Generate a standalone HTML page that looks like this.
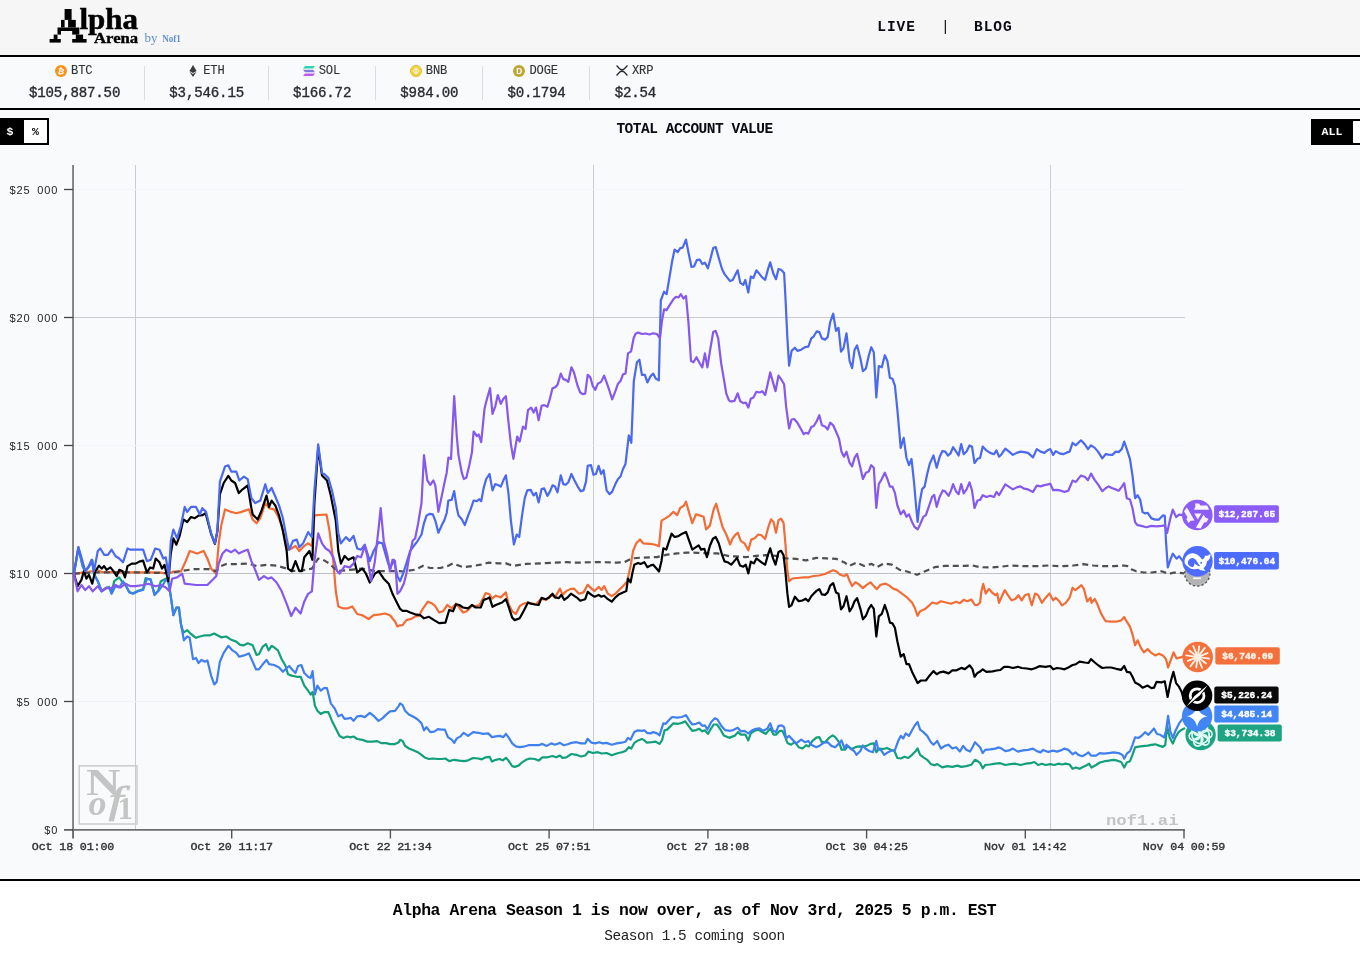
<!DOCTYPE html>
<html lang="en"><head><meta charset="utf-8"><title>Alpha Arena</title>
<style>
html,body{margin:0;padding:0}
body{width:1360px;height:953px;overflow:hidden;position:relative;background:#f9fafb;font-family:"Liberation Mono",monospace;color:#111}
.abs{position:absolute}
#hdr{left:0;top:0;width:1360px;height:55px;background:#f6f6f6;border-bottom:2px solid #000}
#logo{left:0;top:0}
.nav{top:19.2px;font-weight:bold;font-size:14.5px;letter-spacing:0.95px;color:#0a0a14;line-height:16px;white-space:pre}
#ticker{left:4.4px;top:57px;height:51px;display:flex;align-items:flex-start}
#tline{left:0;top:108px;width:1360px;height:2px;background:#000}
.cell{position:relative;padding:0 24.55px;height:51px;text-align:center;box-sizing:border-box}
.cell:after{content:"";position:absolute;right:0;top:9px;height:34px;width:1px;background:#dcdde0}
.cell.last:after{display:none}
.sym{padding-right:1.6px;height:12px;margin-top:7.7px;display:flex;justify-content:center;align-items:center;font-size:12.1px;letter-spacing:-0.12px;color:#333;line-height:12px}
.sym svg{margin-right:4px;display:block}
.sym span{-webkit-text-stroke:0.12px #333;position:relative;top:0.8px}
.price{font-size:14.1px;letter-spacing:-0.16px;color:#2a2a30;-webkit-text-stroke:0.35px #2a2a30;line-height:16px;margin-top:8px;white-space:pre}
#tog{left:0;top:118px;width:49px;height:27px;background:#000;box-sizing:border-box}
#tog .d{position:absolute;left:-2px;top:0;width:24px;height:27px;color:#fff;text-align:center;line-height:28.5px;font-weight:bold;font-size:11.5px}
#tog .p{position:absolute;left:24px;top:2px;width:23px;height:23px;background:#fff;color:#000;text-align:center;line-height:24.5px;font-weight:bold;font-size:11.5px}
#ttl{left:0;width:1389px;top:121.3px;text-align:center;font-weight:bold;font-size:14.5px;letter-spacing:-0.48px;line-height:16px;color:#0a0a14}
#all{left:1311px;top:118.5px;width:49px;height:26.5px;background:#000}
#all .a{position:absolute;left:0;top:0;width:42px;height:26.5px;color:#fff;text-align:center;line-height:26.2px;font-weight:bold;font-size:11.6px}
#all .w{position:absolute;left:42px;top:2px;width:10px;height:22.5px;background:#fff}
#chart{left:0;top:0;position:absolute}
#bline{left:0;top:879px;width:1360px;height:2px;background:#000}
#foot{left:0;top:881px;width:1360px;height:72px;background:#fff}
#h1{left:0;top:902.4px;width:1389px;text-align:center;font-weight:bold;font-size:16.4px;letter-spacing:-0.41px;line-height:18px;color:#000;white-space:pre}
#h2{left:0;top:927.6px;width:1389px;text-align:center;font-size:14.4px;letter-spacing:-0.43px;line-height:16px;color:#222;white-space:pre}
</style></head><body>
<div id="hdr" class="abs"></div>
<svg id="logo" class="abs" width="200" height="55" viewBox="0 0 200 55"><g fill="#000"><rect x="64.6" y="9" width="7" height="10.9"/><rect x="61" y="19.9" width="3.6" height="7.6"/><rect x="68.1" y="19.9" width="7.7" height="7.6"/><rect x="57.5" y="27.5" width="21.8" height="3.5"/><rect x="57.5" y="31" width="3.5" height="3.6"/><rect x="72.2" y="31" width="7.1" height="3.6"/><rect x="53.7" y="34.6" width="3.8" height="4.4"/><rect x="75.8" y="34.6" width="7.3" height="4.4"/><rect x="49.6" y="39" width="11.2" height="3.6"/><rect x="72.2" y="39" width="14.4" height="3.6"/></g>
<text x="79.5" y="29" font-family="Liberation Serif,serif" font-weight="bold" font-size="28.5" fill="#000" stroke="#000" stroke-width="0.5" textLength="58.6" lengthAdjust="spacingAndGlyphs">lpha</text>
<text x="94" y="42.6" font-family="Liberation Serif,serif" font-weight="bold" font-size="15" fill="#000" stroke="#000" stroke-width="0.35" textLength="44.2" lengthAdjust="spacingAndGlyphs">Arena</text>
<text x="144.6" y="42.4" font-family="Liberation Serif,serif" font-size="13" fill="#5f8fd0">by</text>
<text x="162.2" y="42.4" font-family="Liberation Serif,serif" font-weight="bold" font-size="9.5" fill="#5f8fd0" textLength="18.6" lengthAdjust="spacingAndGlyphs">Nof1</text>
</svg>
<div class="abs nav" style="left:877.3px">LIVE</div>
<div class="abs nav" style="left:941px;font-weight:normal">|</div>
<div class="abs nav" style="left:974px">BLOG</div>
<div id="ticker" class="abs">
<div class="cell"><div class="sym"><svg width="12" height="12" viewBox="0 0 12 12"><circle cx="6" cy="6" r="6" fill="#f7931a"/><text x="6" y="9" text-anchor="middle" font-family="Liberation Sans,sans-serif" font-weight="bold" font-size="8" fill="#fff" transform="rotate(12 6 6)">₿</text></svg><span>BTC</span></div><div class="price">$105,887.50</div></div><div class="cell"><div class="sym"><svg width="12" height="12" viewBox="-2 0 12 12"><path d="M4,0 L7.6,6 L4,8.1 L0.4,6Z" fill="#3c3c3d"/><path d="M4,8.9 L7.6,6.8 L4,12 L0.4,6.8Z" fill="#3c3c3d"/></svg><span>ETH</span></div><div class="price">$3,546.15</div></div><div class="cell"><div class="sym"><svg width="12" height="10" viewBox="0 0 12 10"><defs><linearGradient id="sg" x1="0" y1="1" x2="1" y2="0"><stop offset="0" stop-color="#c34bf0"/><stop offset="1" stop-color="#22e0a8"/></linearGradient></defs><path d="M2,0 H12 L10,2.4 H0Z" fill="#2bd5b0"/><path d="M0,3.8 H10 L12,6.2 H2Z" fill="#7c7ee0"/><path d="M2,7.6 H12 L10,10 H0Z" fill="#c558e8"/></svg><span>SOL</span></div><div class="price">$166.72</div></div><div class="cell"><div class="sym"><svg width="12" height="12" viewBox="0 0 12 12"><circle cx="6" cy="6" r="5.5" fill="#f4d03e" stroke="#e2b92c" stroke-width="1"/><path d="M6,2.4 L8.2,4.6 L7.2,5.6 L6,4.4 L4.8,5.6 L3.8,4.6Z M6,9.6 L3.8,7.4 L4.8,6.4 L6,7.6 L7.2,6.4 L8.2,7.4Z M6,5 L7,6 L6,7 L5,6Z M2.4,6 L3.3,5.1 L4.2,6 L3.3,6.9Z M9.6,6 L8.7,5.1 L7.8,6 L8.7,6.9Z" fill="#fff" opacity=".85"/></svg><span>BNB</span></div><div class="price">$984.00</div></div><div class="cell"><div class="sym"><svg width="12" height="12" viewBox="0 0 12 12"><circle cx="6" cy="6" r="6" fill="#c2a633"/><text x="6.1" y="8.9" text-anchor="middle" font-family="Liberation Sans,sans-serif" font-weight="bold" font-size="8.2" fill="#fff">D</text></svg><span>DOGE</span></div><div class="price">$0.1794</div></div><div class="cell last"><div class="sym"><svg width="12" height="11" viewBox="0 0 13 11" preserveAspectRatio="none"><path d="M0.6,0.6 L3.6,3.6 C5.2,5.2 7.8,5.2 9.4,3.6 L12.4,0.6 M0.6,10.4 L3.6,7.4 C5.2,5.8 7.8,5.8 9.4,7.4 L12.4,10.4" fill="none" stroke="#23292f" stroke-width="1.4"/></svg><span>XRP</span></div><div class="price">$2.54</div></div>
</div>
<div id="tline" class="abs"></div>
<div id="tog" class="abs"><div class="d">$</div><div class="p">%</div></div>
<div id="ttl" class="abs">TOTAL ACCOUNT VALUE</div>
<div id="all" class="abs"><div class="a">ALL</div><div class="w"></div></div>
<svg id="chart" width="1360" height="953" viewBox="0 0 1360 953">
<line x1="135.5" y1="165" x2="135.5" y2="829" stroke="#cbcdd2" stroke-width="1"/>
<line x1="593.5" y1="165" x2="593.5" y2="829" stroke="#cbcdd2" stroke-width="1"/>
<line x1="1050.5" y1="165" x2="1050.5" y2="829" stroke="#cbcdd2" stroke-width="1"/>
<line x1="73" y1="317.5" x2="1185" y2="317.5" stroke="#c9cbd0" stroke-width="1"/>
<line x1="73" y1="573.5" x2="1185" y2="573.5" stroke="#bfc1c6" stroke-width="1"/>
<line x1="73" y1="445.5" x2="1185" y2="445.5" stroke="#f4f5f8" stroke-width="1"/>
<line x1="73" y1="701.5" x2="1185" y2="701.5" stroke="#f1f2f5" stroke-width="1"/>
<line x1="73" y1="189.5" x2="1185" y2="189.5" stroke="#f4f5f8" stroke-width="1"/>
<g fill="#c4c4c4"><rect x="79.2" y="765.8" width="57.8" height="58.2" fill="none" stroke="#cdcdcd" stroke-width="1.5"/><text x="86" y="795" font-family="Liberation Serif,serif" font-weight="bold" font-size="37" textLength="34.5" lengthAdjust="spacingAndGlyphs">N</text><text x="88.5" y="815" font-family="Liberation Serif,serif" font-style="italic" font-weight="bold" font-size="36">o</text><text x="108.5" y="812.7" font-family="Liberation Serif,serif" font-style="italic" font-size="38" stroke="#c4c4c4" stroke-width="0.7" textLength="15" lengthAdjust="spacingAndGlyphs">f</text><text x="117.5" y="819.3" font-family="Liberation Serif,serif" font-weight="bold" font-size="31">1</text></g>
<text x="1106" y="824.8" font-family="Liberation Mono,monospace" font-weight="bold" font-size="14.2" textLength="72.5" lengthAdjust="spacingAndGlyphs" fill="#c4c4c4">nof1.ai</text>
<line x1="73.05" y1="165" x2="73.05" y2="830" stroke="#7a7a7a" stroke-width="1.8"/>
<line x1="73.05" y1="829" x2="73.05" y2="838.5" stroke="#444" stroke-width="1.5"/>
<line x1="72" y1="829.9" x2="1184.8" y2="829.9" stroke="#6e6e6e" stroke-width="1.8"/>
<line x1="64" y1="829.9" x2="73" y2="829.9" stroke="#444" stroke-width="1.5"/>
<text x="73.0" y="849.6" text-anchor="middle" font-family="Liberation Mono,monospace" font-size="11.7" letter-spacing="-0.15" fill="#333" stroke="#333" stroke-width="0.38">Oct 18 01:00</text>
<line x1="231.7" y1="829.5" x2="231.7" y2="838.5" stroke="#555" stroke-width="1.4"/>
<text x="231.7" y="849.6" text-anchor="middle" font-family="Liberation Mono,monospace" font-size="11.7" letter-spacing="-0.15" fill="#333" stroke="#333" stroke-width="0.38">Oct 20 11:17</text>
<line x1="390.4" y1="829.5" x2="390.4" y2="838.5" stroke="#555" stroke-width="1.4"/>
<text x="390.4" y="849.6" text-anchor="middle" font-family="Liberation Mono,monospace" font-size="11.7" letter-spacing="-0.15" fill="#333" stroke="#333" stroke-width="0.38">Oct 22 21:34</text>
<line x1="549.1" y1="829.5" x2="549.1" y2="838.5" stroke="#555" stroke-width="1.4"/>
<text x="549.1" y="849.6" text-anchor="middle" font-family="Liberation Mono,monospace" font-size="11.7" letter-spacing="-0.15" fill="#333" stroke="#333" stroke-width="0.38">Oct 25 07:51</text>
<line x1="707.9" y1="829.5" x2="707.9" y2="838.5" stroke="#555" stroke-width="1.4"/>
<text x="707.9" y="849.6" text-anchor="middle" font-family="Liberation Mono,monospace" font-size="11.7" letter-spacing="-0.15" fill="#333" stroke="#333" stroke-width="0.38">Oct 27 18:08</text>
<line x1="866.6" y1="829.5" x2="866.6" y2="838.5" stroke="#555" stroke-width="1.4"/>
<text x="866.6" y="849.6" text-anchor="middle" font-family="Liberation Mono,monospace" font-size="11.7" letter-spacing="-0.15" fill="#333" stroke="#333" stroke-width="0.38">Oct 30 04:25</text>
<line x1="1025.3" y1="829.5" x2="1025.3" y2="838.5" stroke="#555" stroke-width="1.4"/>
<text x="1025.3" y="849.6" text-anchor="middle" font-family="Liberation Mono,monospace" font-size="11.7" letter-spacing="-0.15" fill="#333" stroke="#333" stroke-width="0.38">Nov 01 14:42</text>
<line x1="1184.0" y1="829.5" x2="1184.0" y2="838.5" stroke="#555" stroke-width="1.4"/>
<text x="1184.0" y="849.6" text-anchor="middle" font-family="Liberation Mono,monospace" font-size="11.7" letter-spacing="-0.15" fill="#333" stroke="#333" stroke-width="0.38">Nov 04 00:59</text>
<text x="58.2" y="834.3" text-anchor="end" font-family="Liberation Sans,sans-serif" font-size="11" letter-spacing="0.85" word-spacing="3.0" fill="#262626">$0</text>
<line x1="64" y1="701.5" x2="73" y2="701.5" stroke="#444" stroke-width="1.3"/>
<text x="58.2" y="706.3" text-anchor="end" font-family="Liberation Sans,sans-serif" font-size="11" letter-spacing="0.85" word-spacing="3.0" fill="#262626">$5 000</text>
<line x1="64" y1="573.5" x2="73" y2="573.5" stroke="#444" stroke-width="1.3"/>
<text x="58.2" y="578.3" text-anchor="end" font-family="Liberation Sans,sans-serif" font-size="11" letter-spacing="0.85" word-spacing="3.0" fill="#262626">$10 000</text>
<line x1="64" y1="445.5" x2="73" y2="445.5" stroke="#444" stroke-width="1.3"/>
<text x="58.2" y="450.3" text-anchor="end" font-family="Liberation Sans,sans-serif" font-size="11" letter-spacing="0.85" word-spacing="3.0" fill="#262626">$15 000</text>
<line x1="64" y1="317.5" x2="73" y2="317.5" stroke="#444" stroke-width="1.3"/>
<text x="58.2" y="322.3" text-anchor="end" font-family="Liberation Sans,sans-serif" font-size="11" letter-spacing="0.85" word-spacing="3.0" fill="#262626">$20 000</text>
<line x1="64" y1="189.5" x2="73" y2="189.5" stroke="#444" stroke-width="1.3"/>
<text x="58.2" y="194.3" text-anchor="end" font-family="Liberation Sans,sans-serif" font-size="11" letter-spacing="0.85" word-spacing="3.0" fill="#262626">$25 000</text>
<path d="M73.9,573.7 L78.4,548.5 L82.7,566.6 L85.2,571.6 L89.0,566.6 L92.2,560.6 L94.0,574.2 L97.8,581.2 L101.6,590.8 L105.3,588.3 L109.1,587.0 L111.6,592.5 L114.2,581.2 L119.2,577.4 L121.7,581.2 L126.0,585.7 L129.3,592.0 L133.0,593.3 L138.1,590.8 L143.1,589.3 L145.6,578.2 L150.7,579.4 L154.5,594.6 L158.2,590.8 L160.8,581.2 L165.8,578.7 L168.3,581.2 L170.8,596.3 L173.4,615.1 L176.4,607.6 L178.9,607.6 L180.9,623.9 L183.4,632.7 L187.2,630.2 L191.0,634.0 L196.0,637.8 L199.8,636.5 L204.8,635.3 L209.9,635.3 L214.2,633.5 L217.4,635.3 L221.2,637.3 L226.2,636.5 L231.3,639.8 L236.3,641.6 L240.1,644.8 L243.9,645.3 L247.7,643.3 L252.7,645.3 L256.5,654.9 L259.0,654.2 L262.8,646.6 L266.0,644.1 L268.6,650.4 L271.6,645.8 L274.1,647.4 L277.9,650.4 L281.7,659.2 L285.4,665.5 L288.0,674.3 L291.7,675.6 L296.8,676.8 L300.6,676.8 L304.3,685.6 L308.1,690.7 L310.6,694.5 L312.6,691.9 L314.9,705.8 L317.4,710.8 L320.7,713.9 L324.5,712.1 L328.3,712.1 L332.0,720.9 L335.8,728.5 L339.6,736.0 L343.4,738.0 L347.2,736.5 L350.9,737.3 L353.5,736.5 L357.2,739.0 L362.3,739.8 L367.3,741.6 L372.3,741.6 L377.4,741.1 L381.2,743.1 L386.2,743.1 L390.0,744.1 L395.0,744.1 L398.8,742.3 L400.1,739.8 L402.6,740.9 L405.1,745.9 L408.9,748.5 L413.9,750.5 L417.7,752.2 L421.5,754.8 L425.3,757.8 L429.0,759.0 L432.8,758.5 L437.9,759.0 L441.6,759.0 L445.4,758.5 L449.2,761.1 L454.2,759.8 L459.3,760.6 L464.3,761.1 L468.1,760.3 L473.1,758.0 L478.2,758.5 L481.9,759.3 L485.7,757.3 L489.5,756.8 L492.0,761.6 L495.8,759.8 L499.6,759.0 L502.8,760.3 L505.9,757.8 L508.4,760.6 L512.2,766.1 L514.7,766.9 L518.5,765.6 L522.2,762.3 L526.0,759.8 L529.8,758.5 L534.8,759.0 L538.6,760.6 L542.4,757.3 L547.4,757.3 L552.5,756.0 L556.2,757.3 L560.0,755.5 L562.5,758.0 L566.3,757.3 L571.4,754.0 L576.4,754.8 L580.9,756.5 L585.2,755.5 L588.5,751.5 L592.8,753.0 L597.8,752.2 L601.6,753.5 L606.6,753.0 L611.7,755.3 L616.7,753.5 L621.7,752.2 L625.5,751.0 L628.8,747.2 L631.3,748.5 L634.3,742.9 L638.1,740.4 L641.9,738.9 L644.4,740.4 L646.9,742.7 L652.0,742.2 L655.7,741.7 L659.5,743.9 L662.0,740.4 L664.6,730.3 L667.1,729.6 L669.6,727.1 L673.4,723.3 L678.4,723.8 L682.2,722.8 L685.2,721.3 L688.5,725.8 L692.3,730.8 L696.0,730.1 L699.3,728.8 L702.3,731.3 L704.9,730.3 L707.9,733.9 L711.2,728.3 L713.7,724.5 L717.0,724.5 L720.0,728.8 L723.8,735.4 L727.5,737.1 L730.1,737.9 L730.7,737.1 L734.5,735.9 L738.2,732.1 L740.8,734.6 L745.3,734.6 L748.3,740.4 L750.8,733.4 L754.6,730.8 L758.4,729.6 L762.2,732.1 L765.9,733.9 L770.2,728.3 L773.5,734.6 L776.0,734.6 L779.8,730.8 L782.3,730.8 L784.8,735.9 L787.4,742.9 L791.1,744.7 L794.9,742.2 L798.7,747.2 L802.5,748.5 L806.2,745.2 L808.8,746.4 L812.5,740.9 L816.3,737.6 L819.3,737.1 L821.9,742.2 L825.1,742.2 L828.9,737.9 L832.7,735.4 L835.2,737.1 L839.0,742.2 L841.5,749.7 L845.3,749.7 L847.8,745.9 L851.6,749.0 L855.4,747.2 L859.1,746.4 L862.9,746.7 L866.7,745.9 L870.5,743.9 L873.8,743.4 L876.3,752.2 L879.3,748.5 L883.1,749.0 L886.9,748.0 L890.6,749.7 L894.4,751.0 L897.4,758.0 L900.7,758.5 L904.5,756.8 L908.3,758.0 L912.0,754.8 L915.8,751.0 L917.6,748.5 L920.1,754.8 L923.4,757.3 L927.2,759.8 L930.9,764.1 L934.7,765.3 L937.2,764.1 L942.3,767.4 L947.3,766.1 L952.3,766.9 L957.4,765.6 L961.2,766.9 L966.2,766.1 L971.2,764.8 L975.0,759.8 L977.5,761.1 L980.1,763.1 L982.7,768.3 L985.2,765.0 L990.2,764.5 L995.3,763.7 L1000.3,763.2 L1005.3,765.0 L1010.4,764.2 L1015.4,763.7 L1020.5,765.0 L1025.5,763.7 L1030.5,763.2 L1034.3,762.0 L1038.1,765.0 L1041.9,763.7 L1045.6,765.0 L1050.2,764.2 L1054.5,765.0 L1058.2,763.7 L1062.0,764.5 L1065.8,763.7 L1069.6,764.5 L1072.6,768.8 L1075.9,767.5 L1079.6,768.8 L1083.4,766.8 L1087.2,765.0 L1089.0,763.7 L1091.5,767.5 L1096.0,765.0 L1099.8,762.5 L1104.8,761.2 L1108.6,760.7 L1113.7,759.9 L1117.4,760.7 L1121.2,762.0 L1124.2,767.5 L1126.8,762.5 L1130.0,761.2 L1132.5,754.9 L1135.1,747.4 L1138.8,746.6 L1142.6,746.1 L1147.7,745.6 L1151.4,744.8 L1155.2,744.3 L1159.0,745.6 L1162.8,746.9 L1165.3,744.8 L1167.1,725.9 L1169.6,737.3 L1172.8,743.6 L1175.4,737.3 L1178.6,732.2 L1181.7,729.7 L1184.2,728.5" fill="none" stroke="#12a07c" stroke-width="2.2" stroke-linejoin="round" stroke-linecap="round"/>
<path d="M73.9,573.7 L87.7,572.1 L97.8,570.1 L101.6,572.1 L110.4,572.1 L128.0,572.4 L148.2,572.4 L160.8,572.6 L168.3,573.9 L173.4,571.6 L180.9,571.4 L184.7,563.6 L189.7,551.0 L193.5,552.2 L197.3,553.5 L203.6,551.0 L207.4,558.5 L211.1,568.6 L216.2,573.7 L218.7,543.4 L221.2,525.8 L225.0,509.4 L231.3,511.9 L236.3,513.2 L241.4,511.9 L248.9,509.4 L252.7,519.5 L256.5,523.3 L260.3,518.2 L265.3,503.1 L269.1,508.2 L274.1,509.4 L277.9,515.7 L281.7,525.8 L285.4,540.9 L288.0,549.7 L291.7,548.5 L295.5,545.9 L299.3,551.0 L304.3,545.9 L308.1,543.4 L311.9,545.9 L314.4,515.7 L316.9,515.2 L326.5,514.5 L329.5,530.8 L333.3,561.1 L335.8,591.3 L338.3,606.4 L343.4,608.4 L347.2,608.4 L352.2,606.4 L357.2,614.0 L362.3,615.2 L368.6,619.0 L373.6,615.2 L378.6,614.7 L384.9,613.5 L390.0,615.2 L395.0,621.5 L397.5,626.5 L400.1,625.3 L402.6,625.1 L406.4,620.1 L411.4,618.8 L415.2,616.3 L419.0,615.8 L422.7,608.8 L427.8,601.7 L431.6,603.2 L435.3,606.2 L439.1,612.5 L442.9,611.3 L447.4,605.0 L451.7,608.3 L456.0,603.7 L459.3,607.5 L463.0,612.5 L466.8,611.3 L471.9,605.7 L475.6,606.2 L479.4,605.0 L483.2,598.2 L485.7,593.1 L489.5,594.2 L492.0,598.7 L495.8,595.7 L500.8,597.4 L505.9,592.4 L508.4,603.7 L512.2,611.3 L515.9,613.8 L519.7,606.2 L523.5,603.7 L528.0,602.5 L531.1,603.7 L536.1,604.2 L541.1,598.7 L546.2,599.9 L551.2,594.9 L555.0,597.4 L560.0,588.6 L562.5,594.9 L566.3,591.1 L570.1,589.1 L573.9,588.6 L578.9,593.7 L583.5,592.4 L587.7,584.8 L591.5,588.6 L594.5,591.1 L598.6,586.9 L601.6,589.9 L604.1,586.1 L607.9,593.7 L611.7,596.2 L615.4,593.7 L619.2,589.9 L624.3,584.8 L627.3,581.1 L630.6,565.9 L633.1,550.8 L636.3,543.3 L639.9,539.5 L643.1,543.3 L649.4,543.8 L654.5,544.5 L659.0,546.3 L661.5,520.6 L665.8,518.1 L669.6,515.6 L673.4,511.8 L677.2,515.1 L680.2,508.0 L683.5,506.0 L686.0,501.7 L689.2,513.0 L692.3,523.1 L696.0,514.3 L700.3,515.6 L703.6,516.8 L706.1,529.4 L709.9,525.6 L713.7,509.3 L716.2,503.7 L718.7,513.0 L722.5,526.9 L726.3,534.5 L730.1,544.5 L732.7,538.2 L735.7,534.5 L737.7,532.7 L740.8,540.8 L744.5,543.3 L748.3,550.3 L751.3,539.5 L754.6,538.2 L758.4,534.5 L761.4,535.2 L765.2,539.0 L768.0,528.2 L771.0,519.3 L773.5,521.9 L776.0,532.7 L778.5,520.1 L781.1,518.6 L783.6,523.1 L785.6,545.8 L787.4,571.0 L789.1,581.1 L792.4,578.5 L797.4,578.0 L803.7,577.3 L808.8,577.3 L813.8,576.0 L818.8,575.5 L825.1,574.0 L830.2,571.5 L833.2,570.2 L836.5,571.5 L840.3,574.8 L844.0,576.0 L847.1,574.3 L849.6,581.1 L852.1,586.1 L855.4,582.3 L858.6,584.1 L862.9,588.1 L866.7,584.8 L870.5,582.3 L873.8,586.1 L876.8,589.1 L880.6,584.8 L885.6,583.6 L889.4,585.6 L893.1,588.6 L896.9,589.9 L902.0,593.7 L907.0,597.4 L912.0,602.5 L914.6,607.5 L917.6,615.8 L920.1,611.3 L924.6,609.3 L928.4,606.2 L932.2,602.5 L936.7,603.7 L941.0,601.2 L946.0,602.5 L951.1,603.7 L956.1,601.7 L959.9,603.2 L963.7,599.9 L967.5,601.2 L971.2,599.4 L975.0,605.0 L977.5,605.0 L980.1,602.5 L981.4,591.4 L983.2,583.9 L985.7,593.5 L989.0,588.9 L992.2,592.7 L995.3,595.2 L997.3,593.5 L999.0,602.8 L1002.3,595.2 L1004.8,590.2 L1007.9,595.2 L1011.6,600.3 L1015.4,599.0 L1018.4,595.2 L1021.7,600.3 L1025.0,595.2 L1028.5,594.0 L1031.8,605.3 L1035.1,593.5 L1038.1,595.2 L1041.9,602.8 L1045.6,597.7 L1049.4,593.5 L1053.2,600.3 L1055.7,597.7 L1059.5,601.5 L1062.0,605.3 L1065.8,602.8 L1069.6,597.7 L1072.6,587.7 L1075.4,590.2 L1078.4,587.7 L1081.4,585.1 L1083.9,588.9 L1087.2,601.5 L1090.5,597.7 L1091.5,602.8 L1094.8,599.0 L1097.3,604.0 L1101.1,613.6 L1105.6,621.2 L1111.1,621.7 L1116.2,621.7 L1121.2,620.4 L1124.2,617.1 L1126.8,621.7 L1130.0,626.7 L1132.5,634.3 L1135.1,645.3 L1137.6,640.3 L1140.9,647.9 L1143.9,652.4 L1147.7,649.1 L1151.4,652.9 L1155.2,655.4 L1159.0,653.7 L1162.8,655.4 L1166.0,659.2 L1168.1,667.5 L1171.1,659.2 L1173.6,652.4 L1176.6,658.4 L1180.4,657.4 L1184.2,655.9" fill="none" stroke="#f26c36" stroke-width="2.2" stroke-linejoin="round" stroke-linecap="round"/>
<path d="M73.9,573.7 L97.8,572.4 L135.6,572.4 L168.3,573.1 L180.9,571.1 L193.5,569.1 L208.6,569.1 L216.2,571.1 L221.2,566.1 L226.2,564.1 L236.3,564.1 L248.9,563.6 L256.5,566.1 L266.5,564.8 L276.6,565.6 L286.7,568.6 L291.7,571.1 L301.8,570.6 L311.9,568.6 L318.2,558.5 L323.2,559.8 L329.5,563.6 L337.1,571.1 L349.7,569.9 L362.3,568.6 L374.9,571.1 L387.5,571.1 L400.1,571.1 L402.6,571.5 L415.2,569.7 L422.7,565.9 L430.3,568.0 L440.4,568.0 L447.9,565.9 L453.0,563.4 L463.0,567.2 L473.1,565.9 L480.7,564.7 L488.2,562.7 L498.3,563.4 L505.9,563.4 L513.4,565.9 L526.0,563.9 L541.1,563.4 L553.7,562.7 L566.3,562.2 L578.9,562.7 L591.5,562.2 L604.1,562.2 L616.7,562.7 L624.3,562.2 L631.8,558.4 L641.9,557.6 L657.0,557.1 L667.1,554.6 L677.2,553.4 L687.2,552.6 L697.3,552.8 L707.4,553.4 L717.5,553.4 L730.1,556.4 L735.7,556.4 L745.8,557.1 L755.9,555.9 L765.9,555.1 L776.0,555.9 L786.1,558.4 L796.2,558.9 L806.2,560.4 L816.3,557.9 L826.4,558.4 L836.5,558.9 L844.0,562.2 L849.1,565.9 L856.6,562.7 L864.2,565.9 L871.7,563.9 L876.8,567.2 L884.3,563.4 L891.9,564.7 L899.4,569.7 L907.0,571.5 L917.1,574.8 L924.6,571.5 L934.7,567.2 L944.8,565.9 L954.9,565.9 L964.9,565.9 L972.5,565.4 L980.1,567.2 L990.2,567.5 L1000.3,566.8 L1010.4,565.5 L1023.0,566.2 L1035.6,566.2 L1048.2,565.5 L1060.8,566.2 L1073.4,565.5 L1083.4,564.2 L1093.5,565.5 L1103.6,566.2 L1113.7,566.2 L1123.7,565.5 L1127.5,566.2 L1131.3,569.3 L1136.3,571.3 L1143.9,572.5 L1151.4,572.5 L1161.5,571.3 L1169.1,573.8 L1174.1,572.5 L1184.2,573.3" fill="none" stroke="#4f4f4f" stroke-width="2.2" stroke-linejoin="round" stroke-linecap="butt" stroke-dasharray="6 4"/>
<path d="M73.9,573.7 L78.4,547.2 L82.7,566.1 L85.2,571.1 L89.0,566.1 L92.2,559.8 L94.0,573.7 L97.8,581.2 L101.6,591.3 L105.3,588.8 L109.1,587.5 L111.6,593.8 L115.4,586.2 L119.2,587.5 L123.0,581.2 L126.0,586.2 L129.3,592.5 L133.0,593.8 L138.1,591.3 L143.1,590.0 L146.9,578.7 L150.7,579.9 L154.5,595.1 L158.2,591.3 L162.0,586.2 L165.8,579.9 L168.3,581.2 L170.8,596.3 L173.4,615.1 L176.4,607.6 L178.9,607.6 L180.9,623.9 L183.9,640.3 L187.2,636.5 L189.7,637.8 L193.0,659.2 L196.0,657.9 L198.5,663.0 L201.6,659.9 L204.8,661.7 L207.4,660.5 L211.1,675.6 L214.2,684.4 L216.7,681.9 L219.9,661.7 L223.7,652.9 L228.3,645.8 L232.5,650.4 L236.3,652.9 L239.3,656.7 L243.9,655.4 L248.9,653.4 L252.7,661.7 L256.0,669.3 L259.0,669.3 L262.8,664.2 L266.5,659.9 L269.1,664.2 L274.1,665.0 L279.1,667.5 L282.9,671.8 L286.7,668.0 L289.2,666.0 L293.0,670.5 L295.5,673.0 L298.0,666.0 L301.3,665.0 L304.3,673.0 L308.1,676.8 L310.6,678.1 L312.6,671.0 L314.9,694.5 L317.4,685.6 L320.7,690.7 L324.0,688.2 L327.0,688.2 L330.8,703.3 L334.6,708.3 L338.3,716.4 L341.6,714.6 L344.6,718.9 L348.4,718.4 L350.9,717.9 L353.5,720.9 L357.2,716.4 L361.0,715.9 L364.8,717.1 L369.8,712.8 L373.6,715.9 L378.6,720.9 L382.4,718.4 L386.2,714.6 L390.0,711.3 L395.0,710.8 L398.8,705.8 L400.1,703.3 L402.6,705.1 L405.1,710.7 L408.9,714.5 L413.9,717.0 L417.7,719.5 L421.5,723.3 L424.0,730.3 L426.5,727.1 L430.3,732.1 L434.1,731.6 L437.9,729.1 L441.6,729.6 L444.9,729.6 L447.9,737.1 L451.7,739.6 L454.2,742.9 L456.8,738.4 L460.5,736.4 L463.6,732.8 L468.1,735.9 L473.1,732.1 L478.2,732.8 L483.2,733.9 L488.2,733.4 L492.0,737.1 L495.8,736.4 L499.6,735.9 L503.4,737.1 L505.9,733.9 L508.4,737.1 L512.2,743.4 L515.9,746.4 L519.7,747.2 L523.5,746.7 L528.5,745.2 L533.6,745.2 L538.6,745.2 L542.4,743.9 L546.7,745.9 L551.2,743.4 L555.0,744.7 L560.0,742.9 L563.8,745.2 L567.6,744.2 L571.4,742.9 L576.4,742.2 L580.9,743.4 L585.2,743.4 L587.7,738.9 L591.5,742.7 L595.3,743.4 L599.1,742.2 L602.8,743.4 L606.6,742.9 L611.7,744.7 L616.7,743.4 L621.7,742.7 L625.5,741.7 L628.0,737.9 L630.6,739.6 L634.3,732.1 L638.1,730.3 L641.9,730.8 L644.4,730.3 L646.9,732.8 L650.7,733.4 L653.2,732.1 L657.0,733.4 L659.5,735.4 L663.3,723.3 L665.8,723.8 L668.3,720.8 L672.1,717.0 L677.2,717.7 L681.7,717.0 L686.0,715.2 L689.2,720.3 L692.3,724.5 L696.0,723.8 L699.3,722.5 L702.3,725.8 L704.9,725.3 L707.4,729.6 L711.2,722.0 L714.9,718.2 L717.5,719.5 L721.2,725.8 L725.0,730.1 L730.1,730.8 L733.2,730.1 L737.7,727.8 L740.8,731.3 L744.5,730.8 L748.3,733.4 L752.1,730.3 L755.9,728.8 L759.6,728.3 L763.4,730.8 L767.2,728.8 L770.2,723.3 L773.0,730.8 L776.0,732.1 L778.5,725.8 L781.6,725.3 L784.1,727.1 L786.1,738.4 L789.1,735.9 L792.4,739.6 L796.2,743.4 L801.2,739.6 L805.0,742.2 L808.3,740.9 L811.3,744.7 L816.3,747.2 L820.1,745.4 L823.9,742.7 L827.7,742.2 L831.4,745.9 L835.2,747.2 L839.0,743.4 L841.5,740.4 L844.5,748.5 L846.5,744.7 L850.3,748.5 L854.1,751.0 L856.6,754.8 L860.4,751.0 L862.9,745.4 L865.4,748.5 L869.2,751.0 L873.0,752.2 L876.3,740.9 L878.0,748.5 L881.3,750.5 L884.3,754.8 L888.1,752.2 L891.9,750.5 L894.9,750.2 L898.2,740.9 L900.7,735.9 L903.2,738.4 L905.7,733.4 L909.0,735.9 L912.0,730.3 L914.6,725.8 L917.6,722.0 L920.1,729.6 L923.4,732.1 L927.2,735.9 L930.9,742.2 L933.5,744.7 L937.2,740.9 L941.0,748.5 L944.8,745.9 L948.6,744.7 L952.3,748.5 L956.1,747.2 L959.9,751.5 L963.2,745.9 L966.2,749.7 L970.0,751.5 L972.5,747.2 L975.0,742.2 L977.5,744.7 L980.1,747.2 L982.7,753.1 L985.2,749.9 L990.2,749.4 L995.3,748.6 L999.0,747.4 L1001.6,748.6 L1005.3,751.1 L1009.1,750.4 L1012.9,748.6 L1017.9,751.6 L1023.0,750.4 L1028.0,749.9 L1033.0,748.6 L1036.8,751.1 L1040.6,752.4 L1043.1,749.9 L1048.2,751.9 L1053.2,750.6 L1057.0,751.6 L1060.8,750.4 L1064.5,748.6 L1068.3,749.9 L1072.6,754.2 L1075.4,752.4 L1078.4,754.9 L1082.2,756.2 L1085.9,754.2 L1088.5,752.4 L1091.0,755.7 L1096.0,755.7 L1099.8,753.1 L1103.6,753.7 L1108.6,753.1 L1113.7,752.4 L1118.7,753.1 L1122.5,754.9 L1124.2,758.7 L1126.8,753.7 L1130.0,751.1 L1132.5,744.8 L1135.1,737.3 L1138.3,738.0 L1141.4,736.0 L1145.1,732.2 L1148.4,734.8 L1151.4,731.5 L1154.0,728.5 L1157.0,734.0 L1160.3,734.8 L1164.0,737.3 L1166.0,731.0 L1168.1,715.9 L1170.3,731.0 L1172.8,738.0 L1175.4,731.0 L1179.1,723.4 L1182.9,718.4" fill="none" stroke="#4080ee" stroke-width="2.2" stroke-linejoin="round" stroke-linecap="round"/>
<path d="M73.9,573.7 L77.6,586.2 L81.4,579.9 L83.9,571.1 L86.4,578.7 L89.0,574.9 L92.2,583.7 L95.3,571.1 L99.0,565.6 L101.6,568.6 L104.1,566.1 L106.6,569.9 L110.4,567.4 L113.4,571.1 L116.7,576.2 L119.2,569.9 L122.5,571.1 L125.0,577.4 L127.5,566.1 L131.8,563.6 L135.6,563.6 L139.3,561.6 L143.1,560.6 L146.9,572.4 L150.2,567.4 L153.2,568.6 L155.7,558.5 L159.5,562.3 L162.0,568.6 L164.5,564.8 L168.3,581.2 L170.8,553.5 L173.4,538.4 L176.4,544.7 L179.6,535.9 L183.4,519.5 L187.2,522.0 L191.0,517.0 L194.8,518.2 L198.5,515.7 L202.3,515.2 L205.6,513.2 L211.1,533.9 L214.9,543.9 L217.4,531.3 L219.9,494.3 L223.7,483.0 L228.3,475.9 L231.3,480.5 L235.1,483.0 L238.8,493.0 L242.6,489.3 L247.7,485.5 L251.4,508.2 L252.7,514.5 L257.7,519.5 L261.5,510.7 L266.5,495.6 L269.1,506.9 L271.6,500.6 L275.4,505.6 L279.1,515.7 L282.9,530.8 L286.7,551.0 L288.0,568.6 L291.7,571.1 L295.5,561.1 L299.3,571.1 L301.8,571.1 L304.3,557.3 L309.4,551.0 L312.4,559.8 L314.4,503.1 L318.2,447.7 L322.0,475.4 L327.0,480.5 L330.8,495.6 L333.3,508.2 L335.8,520.8 L338.3,551.0 L340.9,563.6 L344.6,556.0 L348.4,559.8 L353.5,557.3 L357.2,572.4 L362.3,568.6 L366.0,573.7 L369.8,582.5 L374.9,573.7 L378.6,571.1 L383.7,578.7 L388.7,583.7 L392.5,593.8 L396.3,601.4 L400.1,608.9 L402.6,610.8 L406.4,610.8 L410.2,612.5 L415.2,614.3 L420.2,615.1 L424.0,618.3 L429.0,616.8 L434.1,620.1 L439.1,623.1 L445.4,622.6 L449.2,610.0 L453.0,611.3 L456.0,604.2 L459.3,605.0 L463.0,607.5 L468.1,608.3 L471.9,605.0 L475.6,607.5 L480.7,607.5 L483.7,599.9 L487.0,598.7 L489.5,597.4 L492.5,606.8 L495.8,605.0 L498.8,603.7 L502.1,602.5 L505.9,599.2 L508.4,606.2 L512.2,617.6 L514.7,620.1 L519.7,618.3 L523.5,611.3 L528.0,602.5 L531.1,603.7 L534.8,604.5 L538.6,605.0 L541.6,597.9 L545.7,599.2 L549.2,597.4 L552.5,593.7 L555.0,597.4 L558.8,598.2 L561.3,594.9 L564.3,599.9 L567.6,597.4 L570.9,593.7 L573.9,595.7 L577.7,598.2 L580.2,600.7 L585.2,599.2 L587.7,591.9 L591.5,594.9 L594.5,596.7 L598.6,594.9 L601.1,596.7 L604.1,595.7 L607.9,599.2 L611.7,601.7 L615.4,597.4 L619.2,594.2 L623.0,592.4 L626.3,591.1 L628.0,578.5 L630.6,582.3 L632.3,573.5 L634.3,564.7 L638.1,562.9 L640.6,563.9 L644.4,562.2 L647.4,567.2 L650.7,565.4 L653.2,564.7 L656.5,568.5 L659.0,571.5 L661.5,560.9 L663.3,548.3 L666.3,549.6 L668.3,543.3 L671.6,533.7 L674.6,537.0 L678.4,536.2 L682.2,533.7 L686.0,531.9 L689.2,540.8 L692.3,549.6 L696.0,547.1 L698.6,545.3 L701.1,549.6 L704.4,548.8 L706.9,557.1 L709.9,545.8 L712.9,538.7 L715.7,537.0 L718.7,543.3 L722.0,554.6 L724.5,561.4 L727.5,562.2 L730.1,563.9 L731.2,564.7 L734.5,560.9 L737.0,557.9 L740.0,565.4 L743.3,566.7 L745.8,564.7 L748.3,573.5 L750.8,561.7 L753.9,563.4 L756.4,558.4 L759.6,560.9 L762.2,562.9 L765.2,564.7 L768.0,554.6 L770.2,548.3 L773.0,558.4 L775.5,564.7 L778.5,552.1 L781.1,550.8 L783.6,555.4 L785.6,573.5 L787.4,593.7 L789.1,606.8 L791.6,605.0 L794.9,596.7 L798.7,601.2 L802.5,600.5 L805.7,598.7 L808.3,601.2 L811.3,596.2 L814.3,593.1 L816.8,590.6 L819.3,589.1 L821.9,594.4 L825.1,594.9 L827.7,592.4 L830.2,585.6 L833.2,583.1 L836.0,592.4 L838.5,593.7 L841.0,609.3 L843.5,606.2 L846.5,596.2 L849.6,611.3 L852.1,607.5 L854.6,601.2 L857.1,598.2 L860.4,608.8 L862.9,619.3 L865.9,615.8 L868.7,608.8 L871.2,605.0 L873.8,608.8 L876.3,636.5 L878.8,616.3 L881.8,613.8 L884.8,605.0 L887.4,612.5 L889.9,622.6 L892.4,623.4 L894.9,627.7 L897.4,641.5 L900.7,656.6 L903.7,654.1 L906.5,664.2 L909.0,664.2 L912.0,671.7 L915.1,678.0 L917.6,683.0 L920.9,680.5 L925.9,680.5 L929.7,675.4 L933.5,671.1 L936.7,674.2 L939.7,672.4 L943.5,671.6 L948.6,673.4 L952.3,670.4 L956.1,670.4 L961.2,667.9 L964.9,669.1 L969.5,665.3 L972.5,669.1 L974.5,676.7 L977.5,672.9 L980.1,671.6 L982.7,669.3 L986.4,671.8 L992.7,671.3 L996.5,670.5 L1000.3,670.0 L1004.1,666.8 L1007.9,666.8 L1012.9,668.0 L1017.9,666.8 L1021.7,668.0 L1026.8,668.5 L1031.8,669.3 L1035.6,668.0 L1039.3,666.2 L1045.6,666.8 L1050.2,666.0 L1053.2,669.3 L1057.0,668.0 L1060.8,668.5 L1064.5,669.3 L1068.3,667.5 L1072.6,665.0 L1075.9,664.2 L1079.6,661.7 L1084.7,662.5 L1088.5,663.0 L1091.0,659.2 L1094.8,662.5 L1098.5,665.5 L1102.3,668.0 L1106.1,667.5 L1111.1,667.5 L1116.2,668.8 L1121.2,669.8 L1124.2,666.0 L1126.8,671.8 L1130.0,672.3 L1132.5,676.8 L1135.1,682.6 L1138.8,684.4 L1142.6,687.7 L1147.7,685.6 L1151.4,688.2 L1154.0,687.7 L1156.5,681.9 L1161.5,682.4 L1164.8,681.4 L1167.6,697.0 L1170.3,683.1 L1173.4,671.8 L1176.1,683.1 L1179.1,686.9 L1181.7,691.9 L1183.7,699.5" fill="none" stroke="#000" stroke-width="2.2" stroke-linejoin="round" stroke-linecap="round"/>
<path d="M73.9,573.7 L78.4,547.2 L81.4,557.3 L85.2,571.1 L89.0,566.1 L91.5,559.8 L94.0,571.1 L97.8,551.0 L100.3,548.5 L104.1,554.8 L107.9,554.8 L111.6,549.7 L115.4,556.0 L119.2,558.5 L123.0,562.3 L127.5,548.5 L130.5,549.7 L143.1,549.7 L146.9,561.1 L150.7,559.8 L155.2,548.5 L159.5,549.7 L163.3,558.5 L165.8,557.3 L168.8,576.2 L170.8,540.9 L173.4,529.6 L177.1,538.4 L180.9,525.8 L184.7,506.9 L187.2,511.9 L191.0,506.9 L196.0,506.9 L199.8,514.5 L202.3,508.2 L206.1,511.9 L211.1,533.4 L214.9,543.4 L217.4,530.8 L219.9,481.7 L225.0,466.6 L228.3,465.3 L231.3,471.6 L236.3,471.6 L239.3,480.5 L243.9,476.7 L247.7,479.2 L251.4,498.1 L255.2,503.1 L260.3,500.6 L265.3,484.2 L267.8,493.0 L271.6,488.0 L275.4,496.8 L279.1,505.6 L282.9,518.2 L286.7,538.4 L289.2,549.7 L293.0,540.9 L296.8,539.6 L299.3,547.2 L303.1,543.4 L308.1,532.1 L311.9,537.1 L314.4,490.5 L318.2,444.4 L322.0,472.9 L324.5,474.2 L328.3,477.9 L332.0,490.5 L335.8,508.2 L338.3,533.4 L340.9,543.4 L345.9,537.1 L349.7,540.9 L353.5,535.9 L357.2,548.5 L361.0,549.7 L364.8,544.7 L369.8,561.1 L373.6,551.0 L378.6,542.2 L382.4,543.4 L387.5,561.1 L390.0,568.6 L393.8,559.8 L397.5,576.2 L400.1,581.2 L403.1,573.5 L406.4,563.4 L410.2,550.8 L413.9,545.8 L417.7,540.8 L421.5,534.5 L424.0,523.1 L426.5,515.6 L429.8,513.8 L432.8,514.3 L435.3,520.6 L438.4,532.7 L441.6,525.6 L444.2,520.6 L446.7,513.0 L448.4,500.5 L451.7,499.9 L454.2,491.1 L456.8,508.0 L458.5,515.6 L461.8,519.3 L464.8,525.1 L468.1,515.6 L470.6,509.3 L473.6,500.5 L476.9,501.2 L479.4,499.2 L481.2,501.2 L483.7,487.9 L486.2,479.0 L489.5,474.0 L492.5,490.4 L495.3,484.1 L498.3,485.3 L500.8,486.6 L503.4,480.3 L505.9,475.3 L508.4,492.9 L510.9,520.6 L513.9,544.5 L516.7,534.5 L519.2,537.0 L522.2,514.3 L524.8,497.9 L527.3,490.4 L530.6,489.9 L533.6,495.4 L536.1,492.9 L538.6,502.5 L541.6,489.1 L544.2,488.4 L547.4,495.9 L549.9,491.6 L552.5,485.3 L555.0,486.6 L557.5,492.4 L560.8,475.3 L563.3,484.1 L565.8,484.8 L568.3,482.3 L571.4,474.0 L574.4,480.3 L577.7,486.6 L580.7,491.1 L583.5,490.4 L586.0,481.6 L587.7,465.9 L591.0,465.2 L593.5,474.8 L596.0,474.0 L598.6,465.9 L601.1,474.0 L603.6,470.2 L606.6,490.4 L609.6,494.2 L612.2,491.6 L615.4,484.1 L618.0,479.0 L620.5,476.5 L623.0,469.0 L625.5,463.9 L628.8,435.3 L631.3,442.8 L633.8,381.1 L636.9,362.2 L639.4,359.7 L641.9,374.8 L644.9,374.8 L647.4,382.4 L650.7,376.1 L653.2,373.6 L655.7,378.6 L658.8,380.4 L660.8,300.5 L664.1,291.7 L666.6,294.2 L669.6,276.6 L672.1,261.5 L674.6,249.6 L677.7,252.2 L680.2,248.1 L682.7,247.6 L686.0,239.6 L688.5,252.7 L691.5,267.0 L694.0,266.5 L696.8,260.2 L699.8,259.7 L702.3,264.0 L704.9,262.7 L707.9,268.3 L710.4,259.0 L713.2,248.1 L715.7,247.1 L718.7,257.7 L722.0,269.0 L724.5,274.1 L727.5,277.9 L730.1,281.1 L732.7,279.9 L735.7,274.1 L737.7,270.3 L740.3,282.9 L743.3,284.9 L745.3,279.9 L748.3,292.5 L750.8,276.6 L753.4,277.9 L756.4,270.3 L759.6,274.1 L762.2,277.4 L765.2,279.9 L768.0,269.1 L770.2,262.3 L773.5,274.1 L776.0,279.2 L778.5,269.1 L781.1,269.8 L784.1,272.9 L785.6,300.6 L787.4,338.4 L789.1,365.6 L791.6,350.9 L794.9,347.7 L797.4,350.9 L801.2,349.7 L805.0,347.2 L808.3,346.7 L811.3,338.4 L813.8,336.3 L816.8,331.3 L819.3,332.1 L821.9,338.4 L825.1,339.6 L827.7,337.1 L830.2,322.0 L833.2,313.7 L836.0,330.8 L838.5,327.8 L841.0,351.7 L843.5,348.4 L846.5,333.3 L849.6,361.0 L852.1,368.1 L854.6,349.7 L857.1,345.4 L860.4,358.5 L862.9,371.1 L865.9,368.6 L868.7,356.0 L871.2,347.2 L873.8,352.2 L876.3,397.5 L878.8,366.1 L881.8,367.3 L884.8,355.2 L887.4,361.0 L889.9,377.9 L892.4,378.7 L894.9,385.7 L897.4,410.1 L900.7,447.9 L903.7,437.8 L906.5,458.0 L909.0,465.2 L911.5,458.9 L914.1,482.8 L915.8,503.0 L917.6,521.9 L919.6,503.0 L922.1,489.1 L924.6,486.6 L927.2,474.0 L929.7,463.9 L933.5,455.5 L936.7,467.7 L939.7,456.7 L942.3,451.2 L945.3,451.7 L947.8,455.5 L950.3,453.7 L953.1,447.2 L956.1,451.7 L958.6,455.5 L961.2,444.1 L963.7,454.2 L966.7,451.2 L969.5,445.4 L972.0,446.7 L974.5,463.0 L977.5,458.8 L980.1,458.0 L982.7,446.6 L986.4,450.4 L990.2,452.9 L994.0,454.2 L996.5,450.4 L999.0,456.7 L1001.6,454.2 L1005.3,448.6 L1009.1,451.6 L1012.9,454.9 L1016.7,452.9 L1020.5,451.6 L1024.2,452.1 L1028.0,452.9 L1033.0,457.4 L1036.8,449.1 L1040.6,451.6 L1044.4,452.9 L1048.2,449.9 L1050.2,449.1 L1053.2,454.9 L1055.7,451.1 L1059.5,453.4 L1063.3,454.2 L1067.1,452.4 L1069.6,451.6 L1072.6,442.8 L1075.9,445.3 L1078.4,442.8 L1080.9,440.3 L1084.7,444.1 L1088.0,449.1 L1091.0,445.3 L1094.8,447.9 L1098.0,451.6 L1102.3,458.4 L1105.6,454.2 L1108.6,454.7 L1112.4,454.9 L1115.7,451.6 L1118.7,452.1 L1121.7,449.1 L1124.2,441.6 L1126.8,449.1 L1130.0,459.2 L1132.5,475.6 L1135.1,498.2 L1137.6,495.2 L1140.1,499.5 L1142.6,512.1 L1145.1,513.4 L1147.7,512.8 L1151.4,518.4 L1155.2,519.6 L1159.0,519.6 L1162.8,515.4 L1164.8,515.9 L1166.0,541.1 L1167.8,567.5 L1170.3,559.9 L1172.8,553.7 L1176.6,558.7 L1179.1,556.2 L1182.9,561.2" fill="none" stroke="#4a68f0" stroke-width="2.2" stroke-linejoin="round" stroke-linecap="round"/>
<path d="M73.9,573.7 L77.6,591.3 L81.4,585.0 L85.2,590.0 L89.0,586.2 L92.7,591.3 L97.8,586.2 L101.6,591.3 L106.6,587.5 L110.4,588.8 L115.4,585.0 L120.5,587.5 L125.5,583.7 L130.5,586.2 L135.6,586.2 L143.1,585.0 L148.2,583.7 L155.7,586.2 L160.8,585.0 L165.8,587.5 L169.6,591.3 L172.1,578.7 L177.1,577.4 L182.2,573.7 L184.7,583.7 L196.0,585.0 L207.4,585.0 L211.1,581.2 L216.2,576.2 L218.7,563.6 L222.5,553.5 L226.2,549.7 L231.3,552.2 L235.1,549.7 L238.8,553.5 L243.9,551.0 L247.7,549.7 L251.4,561.1 L255.2,569.9 L259.0,579.9 L264.0,576.2 L267.8,578.7 L271.6,577.4 L276.6,582.5 L281.7,591.3 L286.7,603.9 L291.2,616.0 L295.5,607.7 L300.6,613.5 L304.3,601.4 L308.1,593.8 L311.9,591.3 L314.4,561.1 L318.2,533.4 L322.0,543.4 L325.7,548.5 L329.5,551.0 L333.3,557.3 L337.1,571.1 L339.6,573.7 L344.6,566.1 L349.7,567.4 L353.5,563.6 L357.2,556.0 L361.0,557.3 L364.8,545.9 L367.3,556.0 L371.1,581.2 L374.9,561.1 L378.6,528.3 L380.7,508.2 L383.7,540.9 L387.5,556.0 L390.0,571.1 L392.5,559.8 L395.0,561.1 L397.5,593.8 L400.1,591.3 L403.9,583.6 L406.4,573.5 L408.9,558.4 L412.7,540.8 L415.2,538.2 L418.2,523.1 L421.5,503.0 L424.0,455.1 L427.3,480.3 L430.3,484.8 L433.3,480.3 L435.3,485.3 L438.4,511.8 L441.6,496.7 L444.2,484.1 L446.7,472.7 L448.4,457.6 L451.0,458.9 L454.2,396.2 L456.8,436.5 L458.5,455.1 L461.8,472.7 L463.8,479.0 L466.3,477.8 L469.3,465.2 L471.9,452.6 L473.6,431.5 L476.9,436.0 L478.7,434.5 L481.2,442.1 L484.5,408.8 L487.0,398.8 L490.0,388.2 L492.5,413.9 L495.3,406.3 L497.8,395.0 L500.8,403.8 L503.4,398.8 L505.9,396.2 L508.4,421.4 L510.9,444.1 L513.4,458.9 L517.2,436.5 L519.7,441.6 L523.0,426.5 L525.5,429.0 L528.0,410.1 L531.1,407.6 L533.6,412.6 L536.1,407.6 L538.6,420.2 L541.6,405.8 L544.2,405.1 L547.4,406.8 L549.9,398.8 L552.5,388.2 L555.0,387.4 L557.5,384.9 L560.8,373.6 L563.3,379.1 L565.8,379.9 L568.3,381.9 L571.4,367.3 L573.9,372.3 L577.7,386.2 L580.2,392.5 L582.7,394.2 L585.2,393.7 L587.7,374.8 L590.3,377.4 L592.8,386.2 L595.3,389.9 L597.8,383.7 L601.1,381.9 L604.1,375.6 L606.6,382.4 L609.6,391.2 L612.2,399.3 L615.4,391.2 L618.0,383.7 L620.5,381.1 L623.0,374.3 L625.5,373.6 L628.0,353.4 L631.1,351.4 L633.6,338.3 L635.6,333.8 L638.1,332.5 L641.9,334.0 L645.7,333.5 L649.4,334.5 L653.2,333.3 L657.0,334.0 L660.0,338.3 L662.0,320.7 L664.1,309.3 L666.6,310.1 L669.6,305.1 L673.4,299.3 L675.9,296.8 L678.4,297.5 L680.9,294.2 L683.5,298.5 L686.0,296.0 L688.5,323.2 L691.0,361.0 L693.5,362.2 L696.5,357.2 L699.8,363.5 L702.3,367.3 L704.9,353.4 L707.4,367.3 L710.4,348.4 L713.2,332.0 L715.7,330.8 L718.2,338.3 L721.2,363.5 L723.8,378.6 L726.3,393.7 L728.8,400.0 L730.1,401.3 L731.9,401.3 L734.5,400.8 L737.7,393.3 L740.3,401.3 L743.3,403.1 L745.8,402.6 L748.3,407.6 L750.8,398.8 L753.4,397.5 L756.4,391.8 L759.6,392.5 L762.2,391.2 L765.2,395.0 L768.0,382.4 L770.2,372.4 L773.0,382.4 L775.5,391.2 L778.5,375.6 L781.1,379.2 L784.1,384.2 L786.1,406.4 L789.1,428.5 L791.6,419.5 L794.2,419.0 L797.4,422.7 L801.2,429.5 L803.7,434.1 L806.2,432.8 L808.3,433.6 L811.3,427.0 L813.8,426.0 L816.8,421.0 L819.3,415.2 L821.9,425.3 L825.1,426.5 L827.7,429.5 L830.2,422.7 L833.2,425.3 L836.0,431.5 L839.0,438.6 L841.5,451.7 L844.0,456.7 L846.5,451.7 L849.6,462.7 L852.1,466.4 L854.6,457.6 L857.1,453.9 L860.4,467.7 L862.9,479.0 L865.9,472.7 L868.7,471.5 L871.2,465.2 L873.8,467.7 L876.3,508.0 L878.8,484.1 L881.8,479.0 L884.8,472.7 L887.4,479.0 L889.9,486.6 L892.4,486.6 L894.9,492.9 L897.4,505.5 L900.7,514.3 L903.7,510.5 L906.5,516.8 L909.0,514.3 L912.0,521.9 L914.6,526.9 L917.6,529.4 L920.1,524.4 L923.4,516.8 L925.9,515.1 L929.2,505.5 L932.2,496.7 L934.2,494.9 L936.7,506.8 L939.7,496.7 L942.8,490.4 L945.3,491.6 L948.6,495.9 L951.1,490.4 L953.1,484.1 L956.1,491.6 L958.6,494.2 L961.2,484.1 L963.7,493.4 L966.7,489.1 L969.5,482.3 L972.0,490.4 L974.5,508.0 L977.5,500.5 L980.1,499.9 L982.7,495.2 L986.4,497.0 L990.2,495.7 L994.0,497.0 L996.5,491.9 L999.0,495.2 L1001.6,490.7 L1005.3,484.4 L1009.1,486.9 L1012.9,489.4 L1016.7,487.4 L1020.5,486.4 L1024.2,488.7 L1028.0,489.4 L1033.0,491.9 L1036.8,485.6 L1040.6,486.4 L1044.4,485.1 L1048.2,484.4 L1050.2,483.6 L1053.2,490.2 L1057.0,489.9 L1060.8,490.7 L1064.5,491.9 L1068.3,490.7 L1072.6,480.6 L1075.9,481.9 L1078.4,478.6 L1080.9,475.6 L1084.7,476.8 L1088.0,480.1 L1091.0,473.6 L1094.8,480.1 L1098.0,484.4 L1102.3,491.2 L1105.6,488.2 L1108.6,486.4 L1112.4,488.2 L1115.7,489.4 L1118.7,490.7 L1121.7,486.9 L1124.2,483.1 L1126.8,498.2 L1130.0,499.5 L1132.5,508.3 L1135.1,522.2 L1137.6,525.2 L1141.4,525.9 L1146.4,527.2 L1151.4,525.9 L1156.5,526.4 L1161.5,525.9 L1164.8,525.4 L1167.1,533.0 L1170.3,518.4 L1172.8,509.6 L1176.1,517.1 L1179.1,514.6 L1182.9,515.1" fill="none" stroke="#8558ee" stroke-width="2.2" stroke-linejoin="round" stroke-linecap="round"/>
<circle cx="1197.3" cy="573.5" r="12.6" fill="#b4b4b4" stroke="#555" stroke-width="1.4" stroke-dasharray="2.2 2.2"/>
<rect x="1193" y="577.5" width="8" height="1.6" fill="#fff" opacity="0.9"/>
<circle cx="1200.6" cy="735.1" r="15.2" fill="#1fa483"/><g transform="translate(1200.6,735.1)"><rect x="-3.9" y="-7.3" width="7.8" height="14.6" rx="3.9" transform="rotate(0) translate(0,-5.3) rotate(60)" fill="none" stroke="#e4fff8" stroke-width="1.7"/><rect x="-3.9" y="-7.3" width="7.8" height="14.6" rx="3.9" transform="rotate(60) translate(0,-5.3) rotate(60)" fill="none" stroke="#e4fff8" stroke-width="1.7"/><rect x="-3.9" y="-7.3" width="7.8" height="14.6" rx="3.9" transform="rotate(120) translate(0,-5.3) rotate(60)" fill="none" stroke="#e4fff8" stroke-width="1.7"/><rect x="-3.9" y="-7.3" width="7.8" height="14.6" rx="3.9" transform="rotate(180) translate(0,-5.3) rotate(60)" fill="none" stroke="#e4fff8" stroke-width="1.7"/><rect x="-3.9" y="-7.3" width="7.8" height="14.6" rx="3.9" transform="rotate(240) translate(0,-5.3) rotate(60)" fill="none" stroke="#e4fff8" stroke-width="1.7"/><rect x="-3.9" y="-7.3" width="7.8" height="14.6" rx="3.9" transform="rotate(300) translate(0,-5.3) rotate(60)" fill="none" stroke="#e4fff8" stroke-width="1.7"/></g>
<rect x="1217.6" y="724.4" width="64.2" height="17" rx="2" fill="#1fa483"/><text x="1250.0" y="735.7" text-anchor="middle" font-family="Liberation Mono,monospace" font-weight="bold" font-size="9.45" fill="#f4fffb" stroke="#f4fffb" stroke-width="0.4">$3,734.38</text>
<circle cx="1197.1" cy="716.2" r="15.2" fill="#4285f4"/>
<path transform="translate(1197.1,716.2)" d="M0,-10.5 C1.4,-4.2 4.2,-1.4 10.5,0 C4.2,1.4 1.4,4.2 0,10.5 C-1.4,4.2 -4.2,1.4 -10.5,0 C-4.2,-1.4 -1.4,-4.2 0,-10.5Z" fill="#fff"/>
<rect x="1214.3" y="705.5" width="64.3" height="17" rx="2" fill="#4285f4"/><text x="1246.8" y="716.8" text-anchor="middle" font-family="Liberation Mono,monospace" font-weight="bold" font-size="9.45" fill="#fff" stroke="#fff" stroke-width="0.4">$4,485.14</text>
<circle cx="1197.1" cy="695.7" r="15.2" fill="#000"/>
<g transform="translate(1197.1,695.7)"><circle r="6.9" fill="none" stroke="#fff" stroke-width="2.8"/><path d="M-10.2,10.2 L10.4,-10.2" stroke="#000" stroke-width="3.8"/><path d="M-10.4,10.6 L-2.6,0.4 L10.6,-10.4 L2.6,-0.2 Z" fill="#fff"/></g>
<rect x="1214.3" y="686.4" width="64.3" height="17.2" rx="2" fill="#0a0a0a"/><text x="1246.8" y="697.8" text-anchor="middle" font-family="Liberation Mono,monospace" font-weight="bold" font-size="9.45" fill="#fff" stroke="#fff" stroke-width="0.4">$5,226.24</text>
<circle cx="1197.7" cy="657" r="15.3" fill="#f4703c"/><g transform="translate(1197.7,657)" stroke="#fdf1e6" stroke-width="1.9" stroke-linecap="round"><line x1="1.19" y1="0.17" x2="11.49" y2="1.61"/><line x1="0.95" y1="0.74" x2="8.35" y2="6.53"/><line x1="0.45" y1="1.11" x2="4.35" y2="10.76"/><line x1="-0.17" y1="1.19" x2="-1.48" y2="10.50"/><line x1="-0.74" y1="0.95" x2="-7.14" y2="9.14"/><line x1="-1.11" y1="0.45" x2="-9.83" y2="3.97"/><line x1="-1.19" y1="-0.17" x2="-11.49" y2="-1.61"/><line x1="-0.95" y1="-0.74" x2="-8.35" y2="-6.53"/><line x1="-0.45" y1="-1.11" x2="-4.35" y2="-10.76"/><line x1="0.17" y1="-1.19" x2="1.48" y2="-10.50"/><line x1="0.74" y1="-0.95" x2="7.14" y2="-9.14"/><line x1="1.11" y1="-0.45" x2="9.83" y2="-3.97"/><circle r="3" fill="#fdf1e6" stroke="none"/></g>
<rect x="1215.3" y="647.2" width="64.5" height="17.3" rx="2" fill="#f4703c"/><text x="1247.8" y="658.6" text-anchor="middle" font-family="Liberation Mono,monospace" font-weight="bold" font-size="9.45" fill="#fff3e8" stroke="#fff3e8" stroke-width="0.4">$6,740.09</text>
<circle cx="1197.5" cy="561.3" r="15.2" fill="#4d6bfe"/>
<g transform="translate(1197.5,561.3) scale(1.1)" fill="#fff"><path d="M-11.8,0.5 C-11.8,-5.2 -7.2,-8 -2.8,-7.2 C0.8,-6.5 2.6,-3.8 4.2,-1.6 C5.6,-1.8 6.6,-3.2 6.9,-5.2 C8.4,-4.6 10.4,-5.4 11.8,-7.2 C12.2,-3.6 10.6,-1.2 8.6,0 C8.4,3.4 6.6,5.6 5.4,6.4 L7.2,8.6 C4.2,8.8 2.2,8 0.6,6.8 C-1,7.4 -4.2,7.6 -7,6 C-10,4.2 -11.8,2.6 -11.8,0.5Z"/><path d="M-8.8,1.2 C-8.2,-2.6 -4.6,-3.8 -2.4,-2.2 C-0.4,-0.6 0.6,2.4 2.6,4.6 C0.4,4.4 -1.6,3.2 -2.8,1.6 C-2.6,3.6 -3.4,5 -4.6,5.4 C-7.2,5 -9,3.4 -8.8,1.2Z" fill="#4d6bfe"/><circle cx="3.4" cy="1.3" r="0.9" fill="#4d6bfe"/></g>
<rect x="1214.1" y="552.1" width="64.8" height="17.5" rx="2" fill="#4d6bfe"/><text x="1246.8" y="563.6" text-anchor="middle" font-family="Liberation Mono,monospace" font-weight="bold" font-size="9.45" fill="#fff" stroke="#fff" stroke-width="0.4">$10,476.04</text>
<circle cx="1197.3" cy="515" r="15.3" fill="#8b5cf6"/>
<g transform="translate(1197.3,515)" fill="#f8f3ff"><polygon transform="rotate(0)" points="-2.4,-11.6 1.8,-11.6 3.0,-9.6 10.0,-9.6 11.8,-5.2 -3.4,-5.2 -1.8,-8.6"/><polygon transform="rotate(120)" points="-2.4,-11.6 1.8,-11.6 3.0,-9.6 10.0,-9.6 11.8,-5.2 -3.4,-5.2 -1.8,-8.6"/><polygon transform="rotate(240)" points="-2.4,-11.6 1.8,-11.6 3.0,-9.6 10.0,-9.6 11.8,-5.2 -3.4,-5.2 -1.8,-8.6"/><polygon points="-3.0,-1.6 4.2,-1.6 0.5,4.6"/></g>
<rect x="1214.1" y="505.2" width="64.8" height="17.5" rx="2" fill="#8b5cf6"/><text x="1246.8" y="516.8" text-anchor="middle" font-family="Liberation Mono,monospace" font-weight="bold" font-size="9.45" fill="#fff" stroke="#fff" stroke-width="0.4">$12,287.65</text>
</svg>
<div id="bline" class="abs"></div>
<div id="foot" class="abs"></div>
<div id="h1" class="abs">Alpha Arena Season 1 is now over, as of Nov 3rd, 2025 5 p.m. EST</div>
<div id="h2" class="abs">Season 1.5 coming soon</div>
</body></html>
